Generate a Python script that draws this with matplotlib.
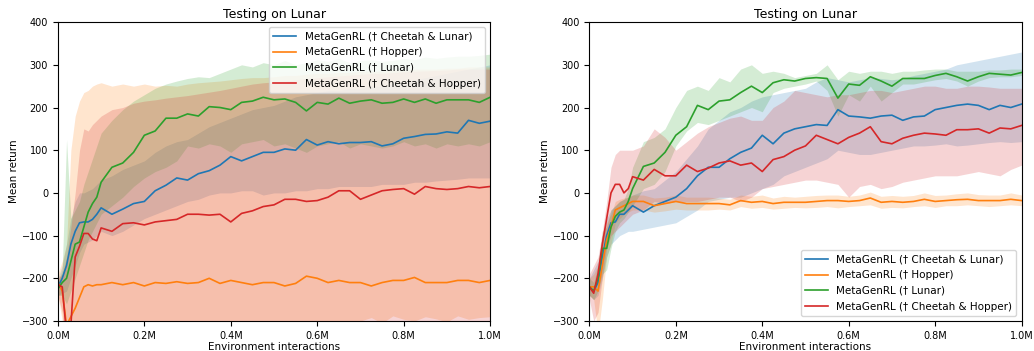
import matplotlib
matplotlib.use("Agg")
import matplotlib.pyplot as plt
from matplotlib.ticker import FuncFormatter

# x positions in millions of environment interactions
x_m = [0, 0.01, 0.02, 0.03, 0.04, 0.05, 0.06, 0.07, 0.08, 0.09, 0.1,
       0.125, 0.15, 0.175, 0.2, 0.225, 0.25, 0.275, 0.3, 0.325, 0.35,
       0.375, 0.4, 0.425, 0.45, 0.475, 0.5, 0.525, 0.55, 0.575, 0.6,
       0.625, 0.65, 0.675, 0.7, 0.725, 0.75, 0.775, 0.8, 0.825, 0.85,
       0.875, 0.9, 0.925, 0.95, 0.975, 1.0]

labels = ["MetaGenRL († Cheetah & Lunar)", "MetaGenRL († Hopper)",
          "MetaGenRL († Lunar)", "MetaGenRL († Cheetah & Hopper)"]
colors = ["#1f77b4", "#ff7f0e", "#2ca02c", "#d62728"]

# ---------------- Left panel ----------------
blue_mean_L = [-220,-200,-170,-120,-90,-70,-68,-68,-62,-50,-35,
               -50,-38,-25,-20,5,18,35,30,45,52,65,85,75,85,95,95,103,100,125,112,
               120,115,118,118,120,110,115,128,132,137,138,143,140,170,163,168]
blue_lo_L = [-240,-235,-230,-200,-170,-140,-120,-115,-110,-100,-90,
             -100,-90,-75,-60,-50,-40,-30,-20,-15,-5,0,0,5,5,-5,0,0,5,5,10,
             10,15,15,15,15,20,20,20,25,25,28,30,32,35,35,35]
blue_hi_L = [-200,-170,-120,-60,-20,0,0,5,10,20,30,
             40,55,65,75,95,110,120,125,140,155,165,175,185,195,200,205,215,225,230,235,
             240,240,245,245,250,250,255,260,265,270,275,280,285,290,295,300]

orange_mean_L = [-210,-230,-310,-290,-270,-245,-220,-215,-218,-215,-215,
                 -210,-215,-210,-218,-210,-212,-208,-212,-210,-200,-212,-205,-210,-215,-210,-210,
                 -218,-212,-195,-200,-210,-205,-210,-210,-218,-210,-205,-205,-198,-210,
                 -210,-210,-205,-205,-210,-205]
orange_lo_L = [-240,-300,-420,-420,-420,-420,-420,-420,-420,-420,-420,
               -320,-320,-320,-320,-320,-320,-320,-320,-320,-320,-320,-320,-320,-320,-320,-320,
               -320,-320,-320,-320,-320,-320,-320,
               -300,-292,-305,-288,-296,-300,-290,-295,-302,-288,-296,-292,-290]
orange_hi_L = [-190,-160,-120,100,180,215,235,240,250,255,258,
               250,255,250,255,250,252,250,255,258,260,262,265,268,270,270,272,275,275,278,280,
               280,282,282,285,285,285,288,288,290,290,290,292,292,295,295,295]

green_mean_L = [-225,-210,-200,-160,-120,-115,-80,-45,-25,-10,25,
                60,70,95,135,145,175,175,185,180,202,200,195,212,215,224,218,220,212,192,212,
                208,222,210,215,218,210,212,220,212,220,210,218,218,218,212,224]
green_lo_L = [-240,-240,-260,-230,-200,-170,-140,-110,-90,-70,-50,
              -30,-10,15,35,50,60,75,110,105,115,110,95,115,120,125,110,115,105,95,110,
              115,120,105,115,110,105,110,120,110,115,105,115,110,115,110,120]
green_hi_L = [-210,-180,125,-60,-40,-20,20,50,80,110,140,
              170,195,215,230,245,255,262,268,272,270,280,290,300,295,305,300,310,300,305,312,
              308,315,305,310,312,308,310,315,312,318,315,318,320,320,322,325]

red_mean_L = [-215,-220,-330,-310,-150,-125,-95,-95,-108,-112,-82,
              -90,-72,-70,-75,-68,-65,-62,-50,-50,-52,-50,-68,-48,-42,-32,-28,-15,-15,-20,-18,
              -10,5,5,-15,-5,5,8,10,-3,15,10,8,10,15,12,15]
red_lo_L = [-240,-280,-420,-420,-420,-420,-420,-420,-420,-420,-420,
            -420,-420,-420,-420,-420,-420,-420,-420,-420,-420,-420,-420,-420,-420,-420,-420,
            -420,-420,-420,-420,-420,-420,-420,-420,-420,-420,-420,-420,-420,-420,
            -420,-420,-420,-420,-420,-420]
red_hi_L = [-200,-190,-150,-80,0,100,150,145,160,170,180,
            195,200,210,215,218,222,225,228,232,236,240,245,250,255,258,260,262,265,268,270,
            272,274,276,278,280,280,282,284,285,286,287,288,290,290,290,290]

# ---------------- Right panel ----------------
blue_mean_R = [-220,-230,-210,-150,-100,-70,-68,-50,-50,-40,-30,
               -45,-30,-20,-10,10,40,60,60,80,95,105,135,115,140,150,155,160,158,195,180,
               178,175,180,182,170,178,180,195,200,205,208,205,195,205,200,208]
blue_lo_R = [-240,-250,-240,-200,-150,-120,-110,-100,-95,-90,-90,
             -85,-80,-75,-70,-55,-40,-20,-15,-10,-10,0,10,20,40,50,60,70,80,100,95,
             90,90,95,100,105,110,110,112,115,110,112,115,118,120,118,120]
blue_hi_R = [-200,-180,-160,-100,-60,-40,-30,-20,-15,-10,-5,
             5,10,30,50,80,110,150,170,190,200,215,225,230,235,240,245,260,270,265,260,
             265,270,268,265,268,275,280,285,290,300,305,310,315,320,325,330]

orange_mean_R = [-220,-220,-230,-170,-110,-80,-40,-35,-30,-25,-20,
                 -20,-30,-25,-20,-25,-25,-25,-25,-28,-18,-22,-20,-25,-22,-22,-22,-20,-18,-18,-20,
                 -18,-12,-22,-20,-22,-20,-15,-20,-18,-16,-15,-18,-18,-18,-15,-18]
orange_lo_R = [-240,-250,-330,-250,-150,-120,-70,-60,-50,-45,-40,
               -40,-45,-42,-38,-40,-40,-40,-38,-40,-32,-36,-34,-38,-36,-34,-35,-34,-32,-35,-32,
               -30,-28,-36,-34,-35,-32,-30,-34,-30,-30,-28,-30,-32,-30,-28,-30]
orange_hi_R = [-200,-190,-170,-100,-70,-50,-20,-15,-12,-10,-5,
               -5,-12,-10,-5,-10,-10,-10,-12,-15,-5,-8,-5,-12,-8,-10,-8,-6,-5,-5,-8,
               -5,2,-8,-6,-8,-6,0,-6,-5,-2,0,-4,-5,-5,0,-5]

green_mean_R = [-220,-230,-200,-130,-130,-80,-55,-45,-40,-20,10,
                62,70,95,135,155,205,195,215,218,235,250,235,258,265,262,268,270,268,222,255,
                252,272,262,250,268,268,268,275,280,272,262,272,280,278,276,282]
green_lo_R = [-240,-250,-230,-190,-180,-130,-90,-70,-60,-45,-30,
              10,20,50,110,145,165,160,170,180,190,200,190,235,245,250,255,262,240,180,230,
              215,250,215,235,255,255,260,265,268,262,250,262,270,272,272,275]
green_hi_R = [-200,-210,-170,-90,-80,-40,-30,-20,-15,10,60,
              120,130,150,200,240,250,240,270,260,290,300,280,285,280,270,275,280,300,265,285,
              280,285,285,280,285,285,288,290,290,285,285,285,288,288,290,290]

red_mean_R = [-220,-235,-190,-120,-60,0,20,20,0,10,38,
              30,55,40,40,65,50,58,70,75,65,70,50,78,85,100,110,135,125,115,130,
              140,155,120,115,128,135,140,138,135,148,148,150,140,152,150,158]
red_lo_R = [-250,-300,-280,-200,-130,-100,-90,-80,-70,-60,-50,
            -40,-20,-25,-20,-20,-20,-15,-10,-10,-20,-10,10,15,20,25,30,30,25,20,-10,
            15,20,10,15,25,30,35,40,40,40,45,50,45,40,55,65]
red_hi_R = [-190,-170,-150,-90,-20,60,90,100,100,100,100,
            110,150,130,100,120,140,155,165,175,180,170,170,200,215,240,235,230,225,230,230,
            235,240,240,235,240,245,250,250,245,245,250,250,248,245,245,245]

left_series = [(blue_mean_L, blue_lo_L, blue_hi_L),
               (orange_mean_L, orange_lo_L, orange_hi_L),
               (green_mean_L, green_lo_L, green_hi_L),
               (red_mean_L, red_lo_L, red_hi_L)]
right_series = [(blue_mean_R, blue_lo_R, blue_hi_R),
                (orange_mean_R, orange_lo_R, orange_hi_R),
                (green_mean_R, green_lo_R, green_hi_R),
                (red_mean_R, red_lo_R, red_hi_R)]

fig = plt.figure(figsize=(10.34, 3.51), dpi=100)
axL = fig.add_axes([0.056, 0.0855, 0.418, 0.8515])
axR = fig.add_axes([0.570, 0.0855, 0.418, 0.8515])

fmt = FuncFormatter(lambda v, p: f"{v:.1f}M")

for ax, series, loc in [(axL, left_series, "upper right"), (axR, right_series, "lower right")]:
    for (m, lo, hi), c, lab in zip(series, colors, labels):
        ax.fill_between(x_m, lo, hi, color=c, alpha=0.2, linewidth=0)
        ax.plot(x_m, m, color=c, linewidth=1.2, label=lab)
    ax.set_xlim(0, 1.0)
    ax.set_ylim(-300, 400)
    ax.set_xticks([0, 0.2, 0.4, 0.6, 0.8, 1.0])
    ax.xaxis.set_major_formatter(fmt)
    ax.set_yticks([-300, -200, -100, 0, 100, 200, 300, 400])
    ax.tick_params(labelsize=7, length=3.5, width=0.8)
    ax.set_title("Testing on Lunar", fontsize=9, pad=3)
    ax.set_xlabel("Environment interactions", fontsize=7.5, labelpad=1)
    ax.set_ylabel("Mean return", fontsize=7.5, labelpad=2)
    ax.legend(loc=loc, fontsize=7.5, handlelength=2.2, borderaxespad=0.5,
              labelspacing=0.55)

fig.savefig("out.png", dpi=100)
